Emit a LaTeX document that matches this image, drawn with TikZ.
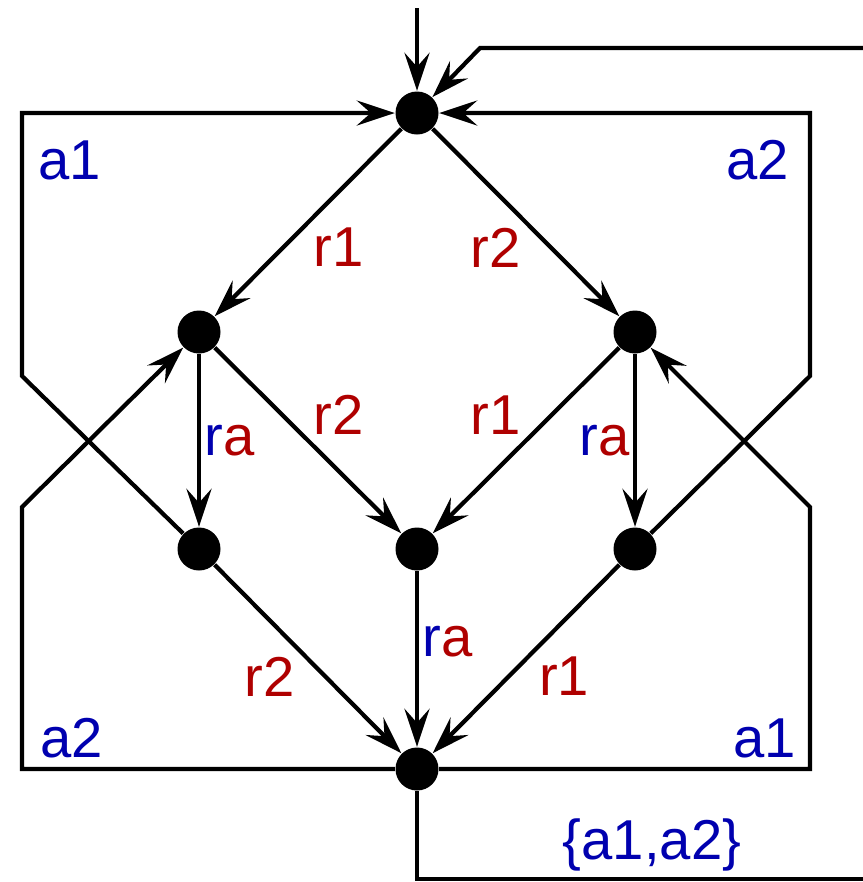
\documentclass[tikz,border=0pt]{standalone}
\usepackage{fontspec}
\setmainfont{Liberation Sans}
\usepackage{xcolor}
\usetikzlibrary{arrows.meta,positioning,calc}
\definecolor{actblue}{RGB}{0,0,175}
\definecolor{rulered}{RGB}{175,0,0}

\begin{document}
\begin{tikzpicture}[
  x=0.1mm,y=-0.1mm,
  dot/.style={circle,fill=black,inner sep=0pt,minimum size=4.3mm},
  arr/.style={-{Stealth[length=3.8mm,width=2.5mm,inset=1.4mm]},line width=1.2pt},
  ln/.style={line width=1.2pt},
  act/.style={text=actblue,font=\fontsize{16}{19}\selectfont},
  rule/.style={text=rulered,font=\fontsize{16}{19}\selectfont,inner sep=1pt}
]
  \useasboundingbox (0,0) rectangle (863,882);

  \node[dot](T) at (417,113){};
  \node[dot](L) at (199,332){};
  \node[dot](R) at (635,332){};
  \node[dot](LL) at (199,549){};
  \node[dot](M) at (417,549){};
  \node[dot](RR) at (635,549){};
  \node[dot](B) at (417,769){};

  \coordinate (in) at (417,8);
  \coordinate (fbE) at (863,48);
  \coordinate (fbC) at (480,48);
  \coordinate (lt) at (22,113);
  \coordinate (lu) at (22,376);
  \coordinate (ld) at (22,507);
  \coordinate (lb) at (22,769);
  \coordinate (rt) at (810,113);
  \coordinate (ru) at (810,376);
  \coordinate (rd) at (810,507);
  \coordinate (rb) at (810,769);
  \coordinate (out) at (417,879);
  \coordinate (outE) at (863,879);

  \draw[arr](in)--(T);
  \draw[arr](fbE)--(fbC)--(T);

  \draw[arr](T)--node[rule,pos=0.5,below right]{r1}(L);
  \draw[arr](T)--node[rule,pos=0.5,below left]{r2}(R);
  \draw[arr](L)--node[rule,pos=0.5,right]{\textcolor{actblue}{r}a}(LL);
  \draw[arr](L)--node[rule,pos=0.5,above right]{r2}(M);
  \draw[arr](R)--node[rule,pos=0.5,above left]{r1}(M);
  \draw[arr](R)--node[rule,pos=0.5,left]{\textcolor{actblue}{r}a}(RR);
  \draw[arr](LL)--node[rule,pos=0.46,below left]{r2}(B);
  \draw[arr](M)--node[rule,pos=0.4,right]{\textcolor{actblue}{r}a}(B);
  \draw[arr](RR)--node[rule,pos=0.46,below right]{r1}(B);

  % actions back to the top
  \draw[arr](LL)--(lu)--(lt)--(T);
  \draw[arr](RR)--(ru)--(rt)--(T);
  \draw[arr](B)--(lb)--(ld)--(L);
  \draw[arr](B)--(rb)--(rd)--(R);
  \draw[ln](B)--(out)--(outE);

  \node[act](a1l) at (70,160){a1};
  \node[act](a2r) at (758,160){a2};
  \node[act](a2l) at (72,738){a2};
  \node[act](a1r) at (765,738){a1};
  \node[act](both) at (652,845){\{a1,a2\}};
\end{tikzpicture}
\end{document}
